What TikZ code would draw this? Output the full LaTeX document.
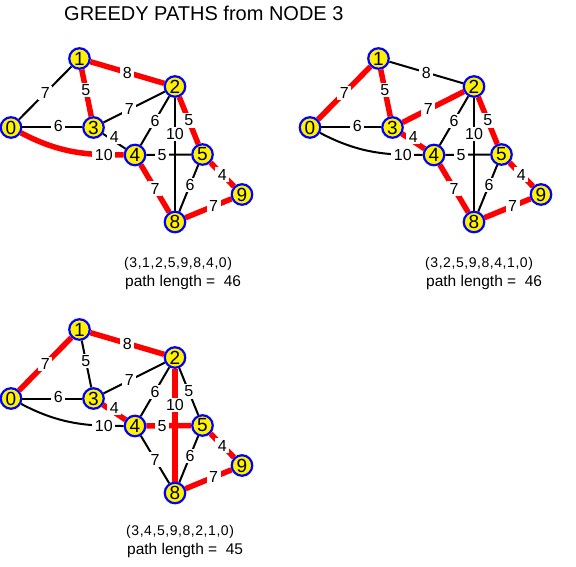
\documentclass[tikz,border=0pt]{standalone}
\usepackage{fontspec}
\setmainfont{Liberation Sans}
\newfontfamily\tuplefont[LetterSpace=4]{Liberation Sans}
\pgfdeclarelayer{bg}
\pgfdeclarelayer{edges}
\pgfdeclarelayer{labels}
\pgfsetlayers{bg,edges,labels,main}
\tikzset{
  gnode/.style={circle, draw=blue, fill=yellow, line width=2.2pt, minimum size=20.5pt,
    inner sep=0pt, font=\fontsize{19}{19}\selectfont},
  lab/.style={fill=white, inner xsep=2.5pt, inner ysep=1.5pt, font=\fontsize{16}{16}\selectfont},
  blk/.style={draw=black, line width=2pt},
  redE/.style={draw=red, line width=5.5pt},
  e-0-1/.style=blk, e-0-3/.style=blk, e-0-4/.style=blk, e-1-2/.style=blk,
  e-1-3/.style=blk, e-2-3/.style=blk, e-2-4/.style=blk, e-2-5/.style=blk,
  e-2-8/.style=blk, e-3-4/.style=blk, e-4-5/.style=blk, e-4-8/.style=blk,
  e-5-8/.style=blk, e-5-9/.style=blk, e-8-9/.style=blk,
  capt/.style={anchor=base west, inner sep=0pt},
}
% \E{a}{b}{label}{pos and label options}{path operation}
\newcommand\E[5]{%
  \begin{pgfonlayer}{edges}\path[e-#1-#2] (#1) #5 (#2);\end{pgfonlayer}%
  \begin{pgfonlayer}{labels}\path (#1) #5 node[lab,pos=#4]{#3} (#2);\end{pgfonlayer}%
}
\newcommand\drawgraph{%
  \node[gnode] (0) at (11,-127.5) {0};
  \node[gnode] (1) at (79.5,-58.5) {1};
  \node[gnode] (2) at (175,-86.5) {2};
  \node[gnode] (3) at (93.5,-127.5) {3};
  \node[gnode] (4) at (135,-155) {4};
  \node[gnode] (5) at (202.5,-154.5) {5};
  \node[gnode] (8) at (175,-222) {8};
  \node[gnode] (9) at (242,-194.5) {9};
  \E{0}{1}{7}{0.5}{--}
  \E{0}{3}{6}{0.6,yshift=1.5pt}{--}
  \E{0}{4}{10}{0.8}{to[out=-28,in=180]}
  \E{1}{2}{8}{0.5}{--}
  \E{1}{3}{5}{0.43}{--}
  \E{2}{3}{7}{0.58}{--}
  \E{2}{4}{6}{0.5}{--}
  \E{2}{5}{5}{0.5}{--}
  \E{2}{8}{10}{0.32}{--}
  \E{3}{4}{4}{0.5,yshift=4pt}{--}
  \E{4}{5}{5}{0.35}{--}
  \E{4}{8}{7}{0.5}{--}
  \E{5}{8}{6}{0.43}{--}
  \E{5}{9}{4}{0.5}{--}
  \E{8}{9}{7}{0.61}{--}
}
\begin{document}
\begin{tikzpicture}[x=1pt,y=1pt]
  \begin{pgfonlayer}{bg}
    \fill[white] (0,0) rectangle (576,-567);
  \end{pgfonlayer}
  \useasboundingbox (0,0) rectangle (576,-567);
  \node[capt, font=\fontsize{20}{20}\selectfont] (title) at (64,-20.5) {GREEDY PATHS from NODE 3};
  % graph 1: (3,1,2,5,9,8,4,0)
  \begin{scope}[name prefix=ga-]
    \tikzset{e-1-3/.style=redE, e-1-2/.style=redE, e-2-5/.style=redE, e-5-9/.style=redE,
      e-8-9/.style=redE, e-4-8/.style=redE, e-0-4/.style=redE}
    \drawgraph
  \end{scope}
  \node[capt, font=\tuplefont\fontsize{14}{14}\selectfont] (ta) at (124,-267) {(3,1,2,5,9,8,4,0)};
  \node[capt, font=\fontsize{15.5}{15.5}\selectfont] (pa) at (125,-286) {path length = \ 46};
  % graph 2: (3,2,5,9,8,4,1,0)
  \begin{scope}[shift={(299,0)}, name prefix=gb-]
    \tikzset{e-0-1/.style=redE, e-1-3/.style=redE, e-2-3/.style=redE, e-2-5/.style=redE,
      e-5-9/.style=redE, e-8-9/.style=redE, e-4-8/.style=redE, e-3-4/.style=redE}
    \drawgraph
  \end{scope}
  \node[capt, font=\tuplefont\fontsize{14}{14}\selectfont] (tb) at (425,-267) {(3,2,5,9,8,4,1,0)};
  \node[capt, font=\fontsize{15.5}{15.5}\selectfont] (pb) at (426,-286) {path length = \ 46};
  % graph 3: (3,4,5,9,8,2,1,0)
  \begin{scope}[shift={(0,-271)}, name prefix=gc-]
    \tikzset{e-3-4/.style=redE, e-4-5/.style=redE, e-5-9/.style=redE, e-8-9/.style=redE,
      e-2-8/.style=redE, e-1-2/.style=redE, e-0-1/.style=redE}
    \drawgraph
  \end{scope}
  \node[capt, font=\tuplefont\fontsize{14}{14}\selectfont] (tc) at (126,-535) {(3,4,5,9,8,2,1,0)};
  \node[capt, font=\fontsize{15.5}{15.5}\selectfont] (pc) at (127,-554) {path length = \ 45};
\end{tikzpicture}
\end{document}
